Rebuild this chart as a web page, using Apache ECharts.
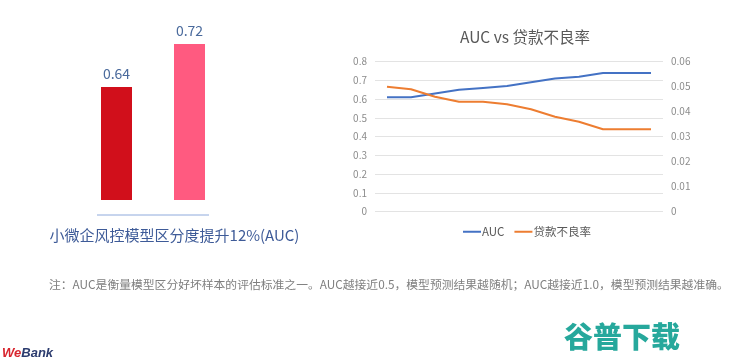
<!DOCTYPE html>
<html>
<head>
<meta charset="utf-8">
<script src="https://cdn.jsdelivr.net/npm/echarts@6/dist/echarts.min.js"></script>
<style>
html,body{margin:0;padding:0;background:#fff;}
#c{width:740px;height:360px;}
</style>
</head>
<body>
<div id="c"></div>
<script>
// ---- data ----
const barCategories = ['原模型', '新模型'];
const barValues = [0.64, 0.72];
const barCaption = '小微企风控模型区分度提升12%(AUC)';

const lineCategories = ['1','2','3','4','5','6','7','8','9','10','11','12'];
const aucValues = [0.61, 0.61, 0.63, 0.65, 0.66, 0.67, 0.69, 0.71, 0.72, 0.74, 0.74, 0.74];
const badRateValues = [0.050, 0.049, 0.046, 0.044, 0.044, 0.043, 0.041, 0.038, 0.036, 0.033, 0.033, 0.033];
const lineTitle = 'AUC vs 贷款不良率';
const seriesNames = ['AUC', '贷款不良率'];
const noteText = '注：AUC是衡量模型区分好坏样本的评估标准之一。AUC越接近0.5，模型预测结果越随机；AUC越接近1.0，模型预测结果越准确。';

// ---- styles ----
const barColors = ['#d10f1b', '#ff5a80'];
const FONT = '"Noto Sans CJK SC", "Noto Sans", sans-serif';

const chart = echarts.init(document.getElementById('c'), null, {renderer: 'canvas'});
const option = {
  backgroundColor: '#ffffff',
  animation: false,
  textStyle: {fontFamily: FONT},
  title: {
    text: lineTitle,
    left: 520, top: 24, textAlign: 'center',
    textStyle: {fontSize: 15.5, fontWeight: 'normal', color: '#595959', fontFamily: FONT}
  },
  legend: {
    data: seriesNames,
    left: 458, top: 221,
    icon: 'rect', itemWidth: 18, itemHeight: 2, itemGap: 10,
    textStyle: {fontSize: 11.5, color: '#595959', fontFamily: FONT, padding: [0,0,0,-4]}
  },
  grid: [
    {left: 80, width: 146, top: 1, height: 199},
    {left: 375, right: 77, top: 61.7, bottom: 148.3}
  ],
  xAxis: [
    {gridIndex: 0, type: 'category', data: barCategories,
     axisLine: {show: false}, axisTick: {show: false}, axisLabel: {show: false}},
    {gridIndex: 1, type: 'category', data: lineCategories, boundaryGap: true,
     axisLine: {show: false}, axisTick: {show: false}, axisLabel: {show: false}}
  ],
  yAxis: [
    {gridIndex: 0, type: 'value', min: 0.43, max: 0.8, show: false},
    {gridIndex: 1, type: 'value', min: 0, max: 0.8, interval: 0.1,
     axisLine: {show: false}, axisTick: {show: false},
     axisLabel: {fontSize: 10, color: '#8c8c8c', margin: 8, fontFamily: FONT},
     splitLine: {lineStyle: {color: '#e3e3e3', width: 1}}},
    {gridIndex: 1, type: 'value', min: 0, max: 0.06, interval: 0.01, position: 'right',
     axisLine: {show: false}, axisTick: {show: false},
     axisLabel: {fontSize: 10, color: '#8c8c8c', margin: 8, fontFamily: FONT},
     splitLine: {show: false}}
  ],
  series: [
    {
      type: 'bar', xAxisIndex: 0, yAxisIndex: 0, barWidth: 31,
      data: barValues.map((v, i) => ({value: v, itemStyle: {color: barColors[i]}})),
      label: {show: true, position: 'top', distance: 6, fontSize: 14, color: '#4a6a9c', fontFamily: FONT}
    },
    {
      name: seriesNames[0], type: 'line', xAxisIndex: 1, yAxisIndex: 1,
      data: aucValues, showSymbol: false, symbol: 'none',
      lineStyle: {color: '#4472c4', width: 2}, itemStyle: {color: '#4472c4'}
    },
    {
      name: seriesNames[1], type: 'line', xAxisIndex: 1, yAxisIndex: 2,
      data: badRateValues, showSymbol: false, symbol: 'none',
      lineStyle: {color: '#ed7d31', width: 2}, itemStyle: {color: '#ed7d31'}
    }
  ],
  graphic: [
    {type: 'line', shape: {x1: 97, y1: 215, x2: 209, y2: 215}, style: {stroke: '#8faadc', lineWidth: 1}},
    {type: 'text', x: 174.5, y: 235, style: {text: barCaption, fill: '#3e5b98', fontSize: 15, fontFamily: FONT, textAlign: 'center', textVerticalAlign: 'middle'}},
    {type: 'text', x: 49, y: 285, style: {text: noteText, fill: '#7f7f7f', fontSize: 11.8, fontFamily: FONT, textAlign: 'left', textVerticalAlign: 'middle'}},
    {type: 'text', x: 2, y: 353, style: {
      text: '{a|We}{b|Bank}', textAlign: 'left', textVerticalAlign: 'middle',
      rich: {
        a: {fill: '#d8262f', fontSize: 13, fontWeight: 'bold', fontStyle: 'italic', fontFamily: '"Liberation Sans", sans-serif'},
        b: {fill: '#2b3b6e', fontSize: 13, fontWeight: 'bold', fontStyle: 'italic', fontFamily: '"Liberation Sans", sans-serif'}
      }}},
    {type: 'text', x: 622, y: 337, style: {text: '谷普下载', fill: '#26a89c', fontSize: 29, fontWeight: 900, fontFamily: FONT, textAlign: 'center', textVerticalAlign: 'middle'}}
  ]
};
chart.setOption(option);
</script>
</body>
</html>
